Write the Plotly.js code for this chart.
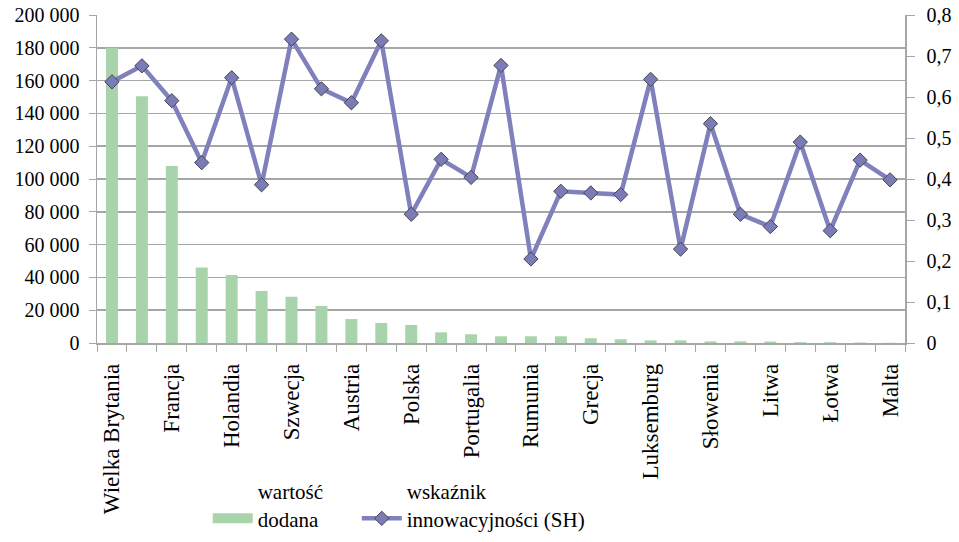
<!DOCTYPE html>
<html>
<head>
<meta charset="utf-8">
<script src="https://cdn.plot.ly/plotly-3.0.1.min.js"></script>
<style>
  html, body { margin: 0; padding: 0; background: #ffffff; }
  #chart { width: 959px; height: 542px; }
  #chart text { font-family: 'Liberation Serif', 'Times New Roman', serif !important; }
</style>
</head>
<body>
<div id="chart"></div>
<script>
// Categories (countries), ordered by value added
const countries = [
  "Wielka Brytania", "Niemcy", "Francja", "Włochy", "Holandia", "Hiszpania",
  "Szwecja", "Belgia", "Austria", "Dania", "Polska", "Czechy", "Portugalia",
  "Finlandia", "Rumunia", "Węgry", "Grecja", "Irlandia", "Luksemburg",
  "Bułgaria", "Słowenia", "Słowacja", "Litwa", "Estonia", "Łotwa", "Cypr", "Malta"
];
// Only every other category label is printed on the axis
const shownLabels = [
  "Wielka Brytania", "Francja", "Holandia", "Szwecja", "Austria", "Polska",
  "Portugalia", "Rumunia", "Grecja", "Luksemburg", "Słowenia", "Litwa", "Łotwa", "Malta"
];
// Series 1: value added (left axis)
const valueAdded = [
  180000, 150500, 108000, 46000, 41500, 31700,
  28200, 22600, 14600, 12200, 11000, 6500, 5300,
  4100, 4100, 4100, 2900, 2300, 1600,
  1600, 1000, 1000, 900, 500, 500, 300, 150
];
// Series 2: innovation index (right axis)
const innovationIndex = [
  0.637, 0.676, 0.591, 0.440, 0.647, 0.386,
  0.741, 0.620, 0.586, 0.737, 0.314, 0.448, 0.404,
  0.677, 0.205, 0.370, 0.366, 0.362, 0.643,
  0.229, 0.535, 0.314, 0.284, 0.490, 0.274, 0.446, 0.398
];
const seriesNames = ["wartość<br>dodana", "wskaźnik<br>innowacyjności (SH)"];

const tickText = countries.map(c => shownLabels.includes(c) ? c : "");

const FONT = "Liberation Serif";
const FS = 20;
const FS_LABEL = 23;
const FS_LEGEND = 21;
const GRID = "#a6a6a6";
const GREEN = "#a9d3ab";
const PURPLE = "#8080bd";

const traces = [
  {
    type: "bar",
    name: seriesNames[0],
    x: countries,
    y: valueAdded,
    marker: { color: GREEN },
    yaxis: "y",
    showlegend: false
  },
  {
    type: "scatter",
    mode: "lines+markers",
    name: seriesNames[1],
    x: countries,
    y: innovationIndex,
    yaxis: "y2",
    line: { color: PURPLE, width: 4.5 },
    marker: { symbol: "diamond", size: 11, color: "#7b7bb6", line: { color: "#444455", width: 1 } },
    showlegend: false
  },
  // legend keys (no data of their own)
  {
    type: "scatter", mode: "lines", name: seriesNames[0],
    x: [null], y: [null], yaxis: "y",
    line: { color: GREEN, width: 11 }, legend: "legend"
  },
  {
    type: "scatter", mode: "lines+markers", name: seriesNames[1],
    x: [null], y: [null], yaxis: "y2",
    line: { color: PURPLE, width: 4.5 },
    marker: { symbol: "diamond", size: 11, color: "#7b7bb6", line: { color: "#444455", width: 1 } },
    legend: "legend2"
  }
];

const legendBase = {
  orientation: "h",
  xanchor: "left",
  yanchor: "top",
  y: -0.39,
  valign: "bottom",
  font: { family: FONT, size: FS_LEGEND, color: "#000000" },
  itemwidth: 40,
  bgcolor: "rgba(0,0,0,0)"
};

const layout = {
  width: 959,
  height: 542,
  margin: { l: 97, r: 54, t: 15, b: 199, autoexpand: false },
  paper_bgcolor: "#ffffff",
  plot_bgcolor: "#ffffff",
  separators: ", ",
  font: { family: FONT, size: FS, color: "#000000" },
  bargap: 0.6,
  showlegend: true,
  legend: Object.assign({}, legendBase, { x: 0.137 }),
  legend2: Object.assign({}, legendBase, { x: 0.3215 }),
  xaxis: {
    type: "category",
    categoryorder: "array",
    categoryarray: countries,
    range: [-0.5, countries.length - 0.5],
    autorange: false,
    automargin: false,
    tickmode: "array",
    tickvals: countries,
    ticktext: tickText,
    tickangle: -90,
    tickson: "boundaries",
    ticks: "outside",
    ticklen: 7,
    tickcolor: GRID,
    ticklabelstandoff: 10,
    showline: true,
    linecolor: GRID,
    linewidth: 1.5,
    showgrid: false,
    zeroline: false,
    tickfont: { family: FONT, size: FS_LABEL, color: "#000000" }
  },
  yaxis: {
    range: [0, 200000],
    autorange: false,
    automargin: false,
    tickmode: "linear",
    tick0: 0,
    dtick: 20000,
    tickformat: ",d",
    ticks: "outside",
    ticklen: 7,
    tickcolor: GRID,
    ticklabelstandoff: 5,
    showline: true,
    linecolor: GRID,
    linewidth: 1.5,
    showgrid: true,
    gridcolor: GRID,
    gridwidth: 1.5,
    zeroline: false,
    tickfont: { family: FONT, size: FS, color: "#000000" }
  },
  yaxis2: {
    overlaying: "y",
    side: "right",
    range: [0, 0.8],
    autorange: false,
    automargin: false,
    tickmode: "linear",
    tick0: 0,
    dtick: 0.1,
    ticks: "outside",
    ticklen: 8,
    tickcolor: GRID,
    ticklabelstandoff: 8,
    showline: true,
    linecolor: GRID,
    linewidth: 1.5,
    showgrid: false,
    zeroline: false,
    tickfont: { family: FONT, size: FS, color: "#000000" }
  }
};

Plotly.newPlot("chart", traces, layout, { displayModeBar: false, staticPlot: true });
</script>
</body>
</html>
